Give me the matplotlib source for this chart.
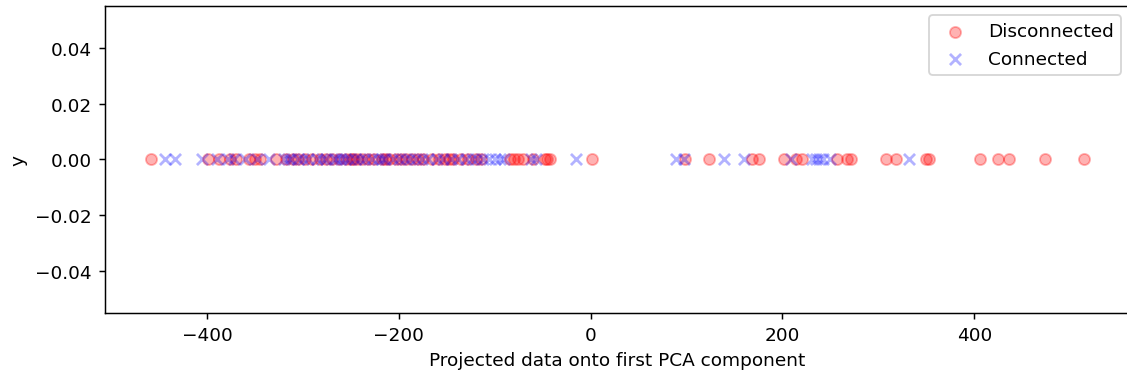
## PCA projection strip plot ##

import numpy as np
import matplotlib
matplotlib.use('Agg')
import matplotlib.pyplot as plt

# projected values
disconnected = [-458, -399, -387, -376, -370, -356, -350, -345, -328, -318, -310, -305, -298,
                -290, -282, -276, -270, -262, -255, -250, -248, -244, -238, -232, -226, -218,
                -214, -210, -203, -198, -192, -186, -180, -175, -165, -158, -152, -148, -143,
                -135, -128, -120, -114, -84, -80, -76, -71, -60, -48, -45, -42, 1,
                98, 123, 168, 176, 202, 214, 220, 257, 267, 271, 308, 318,
                350, 353, 406, 425, 436, 474, 514]
connected = [-444, -433, -405, -390, -378, -372, -360, -348, -335, -320, -315, -312, -305,
             -300, -295, -285, -280, -276, -268, -264, -260, -256, -252, -246, -240, -235,
             -228, -222, -218, -214, -206, -200, -194, -188, -182, -176, -170, -160, -154,
             -146, -138, -130, -124, -118, -112, -106, -100, -95, -90, -62, -57, -15,
             89, 97, 139, 160, 209, 231, 235, 238, 242, 250, 332]

fig = plt.figure(figsize=(8.48, 2.827), dpi=133)
# axes runs slightly past the right edge of the image (cropped original)
ax = fig.add_axes([0.0928, 0.165, 0.9094, 0.817])
ax.spines['right'].set_visible(False)

ax.scatter(disconnected, np.zeros(len(disconnected)), c='red', marker='o', alpha=0.3, label='Disconnected')
ax.scatter(connected, np.zeros(len(connected)), c='blue', marker='x', alpha=0.3, label='Connected')
ax.set_xlabel('Projected data onto first PCA component')
ax.set_ylabel('y')
ax.legend(loc='upper right')

plt.savefig('out.png')
